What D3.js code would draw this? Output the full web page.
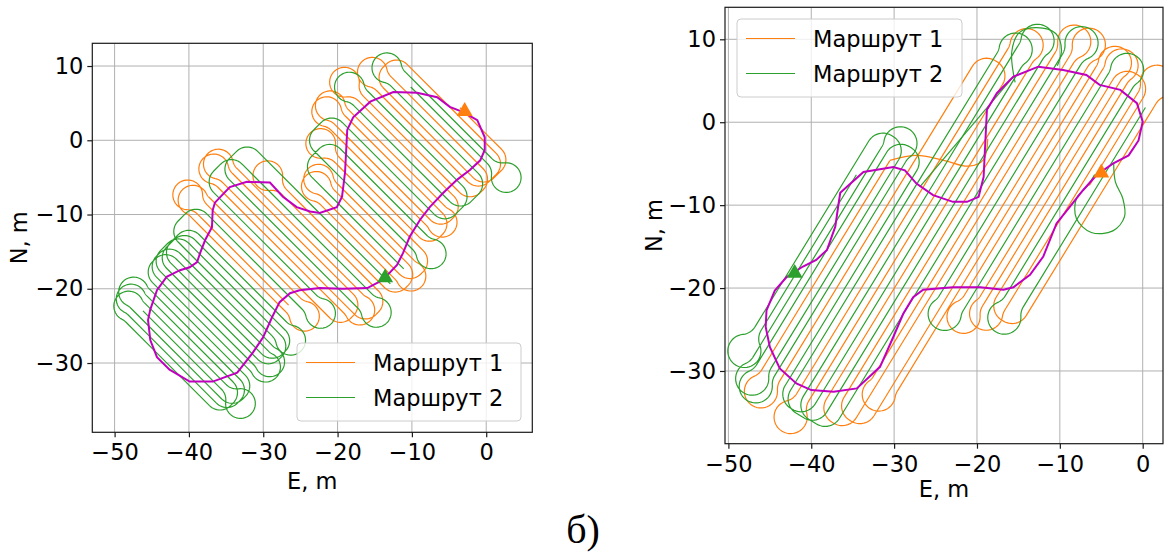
<!DOCTYPE html>
<html>
<head>
<meta charset="utf-8">
<script src="https://cdn.jsdelivr.net/npm/d3@7"></script>
<style>
  body { margin: 0; background: #fff; }
  svg { display: block; }
</style>
</head>
<body>
<div id="chart"></div>
<script>
// ---- data ----
const xTicks = [-50, -40, -30, -20, -10, 0];
const yTicks = [10, 0, -10, -20, -30];
const legendLabels = ["Маршрут 1", "Маршрут 2"];

// area boundary (E, N), same field on both plots
const boundaryLeft = [[-36.5,-8.4],[-34.5,-6.3],[-32.2,-5.6],[-29.1,-5.7],[-27.35,-7.6],[-25.5,-9.0],[-23.7,-9.6],[-22.4,-9.8],[-20.1,-9.0],[-19.4,-7.6],[-19.0,-4.4],[-18.7,1.4],[-17.9,3.1],[-15.6,5.2],[-12.5,6.5],[-9.3,6.4],[-6.6,5.8],[-4.9,4.5],[-3.1,3.8],[-1.2,2.7],[-0.2,0.4],[-0.2,-1.3],[-0.8,-2.7],[-2.2,-4.0],[-3.9,-5.3],[-5.8,-7.1],[-7.6,-9.0],[-8.9,-10.7],[-10.3,-13.0],[-11.2,-15.2],[-12.0,-16.8],[-13.9,-18.8],[-16.0,-19.9],[-19.3,-20.0],[-22.4,-19.9],[-25.1,-20.2],[-26.4,-20.6],[-27.8,-21.8],[-28.8,-23.8],[-30.0,-26.5],[-31.4,-28.6],[-33.5,-31.3],[-36.8,-32.5],[-39.9,-32.5],[-42.6,-30.9],[-44.3,-29.2],[-45.2,-26.9],[-45.5,-24.2],[-45.2,-22.8],[-44.3,-20.2],[-43.0,-18.4],[-41.2,-17.5],[-39.9,-17.1],[-38.9,-16.4],[-38.5,-15.2],[-37.8,-13.4],[-36.9,-11.7],[-36.8,-9.4]];
const boundaryRight = [[-36.5,-8.5],[-33.7,-6.0],[-30.1,-5.4],[-28.7,-5.8],[-27.3,-7.4],[-25.3,-8.8],[-22.9,-9.6],[-21.2,-9.6],[-19.8,-9.0],[-19.2,-6.6],[-18.8,1.5],[-17.6,3.5],[-15.6,5.5],[-12.6,6.7],[-9.6,6.3],[-6.8,5.7],[-5.2,4.5],[-2.7,3.9],[-0.7,2.3],[0,0.05],[-0.5,-2.2],[-1.7,-4.0],[-3.6,-5.0],[-5.6,-6.4],[-7.2,-8.2],[-8.8,-10.2],[-10.4,-12.2],[-12.0,-16.2],[-13.6,-18.4],[-15.6,-19.9],[-16.8,-20.2],[-19.6,-19.9],[-22.9,-19.9],[-26.5,-20.2],[-27.7,-21.1],[-28.9,-23.1],[-30.1,-25.9],[-31.7,-29.5],[-34.5,-32.1],[-37.3,-32.5],[-40.0,-32.3],[-41.8,-31.5],[-43.8,-29.7],[-45.0,-27.1],[-45.5,-24.7],[-45.4,-22.7],[-44.4,-20.3],[-43.0,-18.7],[-41.0,-17.4],[-39.4,-16.6],[-38.1,-15.4],[-37.1,-12.6],[-36.7,-9.8]];

// stripe offsets across the track direction, m
const stripesLeft = [-51.6,-50.7,-49.8,-48.9,-48.0,-47.1,-46.2,-45.3,-44.4,-43.5,-42.6,-41.7,-40.8,-39.9,-39.0,-38.1,-37.2,-36.3,-35.4,-34.5,-33.6,-32.7,-31.8,-30.9,-30.0,-29.1,-28.2,-27.3,-26.4,-25.5,-24.6,-23.7,-22.8,-21.9,-21.0,-20.1,-19.2,-18.3,-17.4,-16.5,-15.6,-14.7,-13.8,-12.9,-12.0,-11.1,-10.2,-9.3,-8.4,-7.5,-6.6,-5.7,-4.8,-3.9,-3.0,-2.1,-1.2,-0.3,0.6];
const stripesRight = [-27.0,-26.15,-25.3,-24.45,-23.6,-22.75,-21.9,-21.05,-20.2,-19.35,-18.5,-17.65,-16.8,-15.95,-15.1,-14.25,-13.4,-12.55,-11.7,-10.85,-10.0,-9.15,-8.3,-7.45,-6.6,-5.75,-4.9,-4.05,-3.2,-2.35,-1.5,-0.65,0.2];

// visiting order of stripes (indices), one array per continuous piece
const route1Left = [[58,52,57,51,54,49,48,43,46,42,45,40,39,34,37,33,36,31,30,25,28,24,27,22,18,21,19]];
const route2Left = [[32,26,29,23,20,14,17,11,16,10,15,9,13,8,12,7,2,6,1,5,0,4,3],[35,41,38,44,50,47,53,56,55]];
const route1Right = [[30,25,29,32,27,23,26,22,18,21,16,19,14,10,12,7,4]];
const route2Right = [[1,0,5,2,6,3,8,13,9,15,11,17,20,24,28,31]];

// extra pieces of the routes on the right plot (E, N)
const route1RightExtra = [[[-30.5,-4.6],[-27.3,-4.0],[-24.0,-4.6],[-21.0,-5.3],[-19.2,-4.5],[-18.7,-2.0]]];
const route2RightExtra = [
  [[-26.9,-7.8],[-15.6,5.5]],
  [[-15.4,4.8],[-15.8,8.5],[-14.9,10.8],[-12.8,11.4],[-10.5,10.7],[-9.8,8.7],[-10.3,6.8]],
  [[-3.5,-4.9],[-3.3,-7.2],[-2.4,-9.2],[-2.2,-11.4],[-3.6,-13.1],[-6.2,-13.3],[-8.0,-11.6],[-8.0,-9.2],[-6.6,-7.6],[-5.8,-6.3]]
];

// start points
const startLeft = [[-2.9, 3.9], [-13.6, -18.5]];
const startRight = [[-5.0, -6.1], [-42.0, -18.2]];

// ---- drawing ----
const colors = ["#ff7f0e", "#2ca02c"];
const fontFamily = "DejaVu Sans, sans-serif";
const fmt = v => v < 0 ? "\u2212" + Math.abs(v) : String(v);

const svg = d3.select("#chart").append("svg")
    .attr("width", 1173)
    .attr("height", 553)
    .style("background", "#fff");

const r2 = Math.SQRT1_2;
const angR = 58.5 * Math.PI / 180;
const turnRadius = 2.0;

const panels = [
  {
    id: "l",
    x: d3.scaleLinear().domain([-53.0, 6.2]).range([92.3, 532.3]),
    y: d3.scaleLinear().domain([-39.33, 13.06]).range([432.3, 43.3]),
    n: [r2, r2], d: [r2, -r2],
    boundary: boundaryLeft, stripes: stripesLeft,
    routes: [{ pieces: route1Left, dir: 1, extra: [] }, { pieces: route2Left, dir: -1, extra: [] }],
    starts: startLeft,
    xLabelY: 489, yLabelX: 27,
    legend: { x: 297, y: 343, w: 224, h: 78 }
  },
  {
    id: "r",
    x: d3.scaleLinear().domain([-50.41, 2.45]).range([725, 1163]),
    y: d3.scaleLinear().domain([-38.77, 13.86]).range([443.7, 7.3]),
    n: [Math.sin(angR), -Math.cos(angR)], d: [Math.cos(angR), Math.sin(angR)],
    boundary: boundaryRight, stripes: stripesRight,
    routes: [{ pieces: route1Right, dir: 1, extra: route1RightExtra }, { pieces: route2Right, dir: -1, extra: route2RightExtra }],
    starts: startRight,
    xLabelY: 497, yLabelX: 662,
    legend: { x: 737, y: 19, w: 225, h: 78 }
  }
];

// extent of a stripe inside the boundary (along-track coordinates)
function stripeSpan(poly, c, n, d) {
  const ss = [];
  for (let i = 0; i < poly.length; i++) {
    const p = poly[i], q = poly[(i + 1) % poly.length];
    const up = p[0] * n[0] + p[1] * n[1];
    const uq = q[0] * n[0] + q[1] * n[1];
    if (up === uq) continue;
    if ((up - c) * (uq - c) <= 0) {
      const t = (c - up) / (uq - up);
      const sp = p[0] * d[0] + p[1] * d[1];
      const sq = q[0] * d[0] + q[1] * d[1];
      ss.push(sp + t * (sq - sp));
    }
  }
  return ss.length ? [d3.min(ss), d3.max(ss)] : null;
}

// turn shape in local coords [across, outward], from (0,0) to (D,0)
function turnShape(D, r) {
  const pts = [], N = 14;
  if (D >= 2 * r) {
    for (let i = 0; i <= N; i++) { const t = i / N * Math.PI / 2; pts.push([r - r * Math.cos(t), r * Math.sin(t)]); }
    for (let i = 0; i <= N; i++) { const t = i / N * Math.PI / 2; pts.push([D - r + r * Math.sin(t), r * Math.cos(t)]); }
  } else {
    // omega turn
    const h = Math.sqrt(4 * r * r - (D / 2 + r) ** 2);
    const al = Math.atan2(h, D / 2 + r);
    for (let i = 0; i <= N; i++) { const t = al * i / N; pts.push([-r + r * Math.cos(t), r * Math.sin(t)]); }
    for (let i = 0; i <= 3 * N; i++) { const t = (al - Math.PI) - (Math.PI + 2 * al) * i / (3 * N); pts.push([D / 2 + r * Math.cos(t), h + r * Math.sin(t)]); }
    for (let i = 0; i <= N; i++) { const t = (Math.PI - al) + al * i / N; pts.push([D + r + r * Math.cos(t), r * Math.sin(t)]); }
  }
  return pts;
}

function routePath(P, order, firstDir) {
  const pt = (u, s) => [P.x(u * P.n[0] + s * P.d[0]), P.y(u * P.n[1] + s * P.d[1])];
  const ext = 1.1;
  const path = d3.path();
  let dir = firstDir, prev = null;
  order.forEach(j => {
    const c = P.stripes[j];
    const span = stripeSpan(P.boundary, c, P.n, P.d);
    if (!span) return;
    const sStart = dir > 0 ? span[0] - ext : span[1] + ext;
    const sEnd = dir > 0 ? span[1] + ext : span[0] - ext;
    if (!prev) {
      path.moveTo(...pt(c, sStart));
    } else {
      // turn outside the field
      const o = prev.dir;
      const sFar = o > 0 ? Math.max(prev.sEnd, sStart) : Math.min(prev.sEnd, sStart);
      const side = Math.sign(c - prev.c);
      path.lineTo(...pt(prev.c, sFar));
      turnShape(Math.abs(c - prev.c), turnRadius).forEach(([b, a]) => {
        path.lineTo(...pt(prev.c + side * b, sFar + o * a));
      });
      path.lineTo(...pt(c, sStart));
    }
    path.lineTo(...pt(c, sEnd));
    prev = { c, sEnd, dir };
    dir = -dir;
  });
  return path.toString();
}

panels.forEach(P => {
  const g = svg.append("g");
  const [x0, x1] = P.x.range();
  const [y0, y1] = P.y.range();

  g.append("clipPath").attr("id", "clip-" + P.id)
    .append("rect").attr("x", x0).attr("y", y1).attr("width", x1 - x0).attr("height", y0 - y1);

  // grid
  g.selectAll(".gx").data(xTicks).join("line")
    .attr("x1", d => P.x(d)).attr("x2", d => P.x(d))
    .attr("y1", y1).attr("y2", y0)
    .attr("stroke", "#b0b0b0").attr("stroke-width", 1);
  g.selectAll(".gy").data(yTicks).join("line")
    .attr("x1", x0).attr("x2", x1)
    .attr("y1", d => P.y(d)).attr("y2", d => P.y(d))
    .attr("stroke", "#b0b0b0").attr("stroke-width", 1);

  const plot = g.append("g").attr("clip-path", `url(#clip-${P.id})`);

  // routes
  P.routes.forEach((R, ri) => {
    R.pieces.forEach(order => {
      plot.append("path")
        .attr("d", routePath(P, order, R.dir))
        .attr("fill", "none")
        .attr("stroke", colors[ri])
        .attr("stroke-width", 1.2)
        .attr("stroke-linejoin", "round");
    });
    R.extra.forEach(pts => {
      plot.append("path")
        .attr("d", d3.line().x(d => P.x(d[0])).y(d => P.y(d[1])).curve(d3.curveCatmullRom)(pts))
        .attr("fill", "none")
        .attr("stroke", colors[ri])
        .attr("stroke-width", 1.2);
    });
  });

  // boundary
  plot.append("path")
    .attr("d", d3.line().x(d => P.x(d[0])).y(d => P.y(d[1])).curve(d3.curveLinearClosed)(P.boundary))
    .attr("fill", "none")
    .attr("stroke", "#bf00bf")
    .attr("stroke-width", 2);

  // start markers
  plot.selectAll(".start").data(P.starts).join("path")
    .attr("transform", d => `translate(${P.x(d[0])},${P.y(d[1])})`)
    .attr("d", d3.symbol(d3.symbolTriangle, 110))
    .attr("fill", (d, i) => colors[i]);

  // frame
  g.append("rect")
    .attr("x", x0).attr("y", y1).attr("width", x1 - x0).attr("height", y0 - y1)
    .attr("fill", "none").attr("stroke", "#1a1a1a").attr("stroke-width", 1.2);

  // axes
  const ax = g.append("g").attr("transform", `translate(0,${y0})`)
    .call(d3.axisBottom(P.x).tickValues(xTicks).tickSize(5).tickPadding(7).tickFormat(fmt));
  const ay = g.append("g").attr("transform", `translate(${x0},0)`)
    .call(d3.axisLeft(P.y).tickValues(yTicks).tickSize(5).tickPadding(4).tickFormat(fmt));
  [ax, ay].forEach(a => {
    a.select(".domain").remove();
    a.selectAll("line").attr("stroke", "#1a1a1a").attr("stroke-width", 1.2);
    a.selectAll("text").attr("fill", "#000")
      .style("font-family", fontFamily).style("font-size", "22.5px");
  });

  g.append("text")
    .attr("x", (x0 + x1) / 2).attr("y", P.xLabelY)
    .attr("text-anchor", "middle")
    .style("font-family", fontFamily).style("font-size", "22.5px")
    .text("E, m");
  g.append("text")
    .attr("transform", `translate(${P.yLabelX},${(y0 + y1) / 2}) rotate(-90)`)
    .attr("text-anchor", "middle")
    .style("font-family", fontFamily).style("font-size", "22.5px")
    .text("N, m");

  // legend
  const L = P.legend;
  const lg = g.append("g").attr("transform", `translate(${L.x},${L.y})`);
  lg.append("rect")
    .attr("width", L.w).attr("height", L.h).attr("rx", 4)
    .attr("fill", "#fff").attr("fill-opacity", 0.8)
    .attr("stroke", "#cccccc").attr("stroke-width", 1);
  legendLabels.forEach((lab, i) => {
    const yy = 19.5 + i * 35;
    lg.append("line")
      .attr("x1", 9).attr("x2", 58).attr("y1", yy).attr("y2", yy)
      .attr("stroke", colors[i]).attr("stroke-width", 1.2);
    lg.append("text")
      .attr("x", 76).attr("y", yy + 8)
      .style("font-family", fontFamily).style("font-size", "22.5px")
      .text(lab);
  });
});

// caption
svg.append("text")
  .attr("x", 583).attr("y", 543)
  .attr("text-anchor", "middle")
  .style("font-family", "Liberation Serif, serif")
  .style("font-size", "40px")
  .text("б)");
</script>
</body>
</html>
